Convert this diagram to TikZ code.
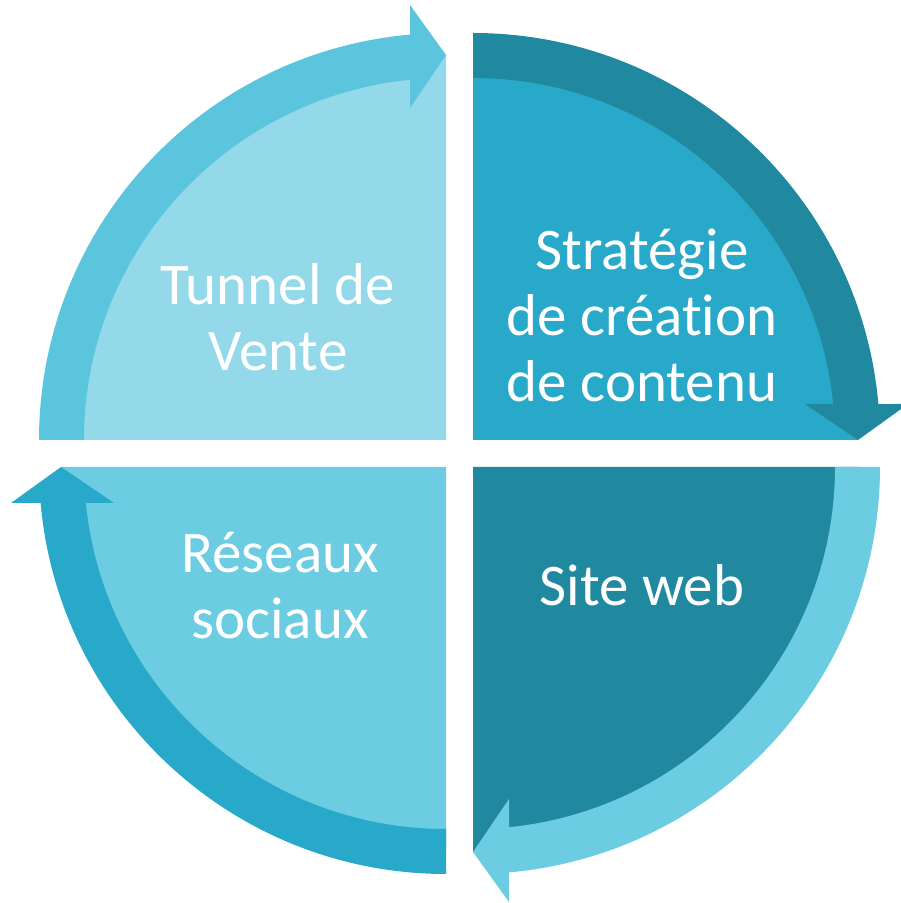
\documentclass[tikz,border=0pt]{standalone}
\usepackage{fontspec}
\setmainfont{Carlito}[Ligatures=NoCommon]
\definecolor{tlslice}{HTML}{93D9E9}
\definecolor{tlband}{HTML}{5BC5DE}
\definecolor{trslice}{HTML}{29A9C9}
\definecolor{trband}{HTML}{2089A0}
\definecolor{brslice}{HTML}{2089A0}
\definecolor{brband}{HTML}{6BCCE2}
\definecolor{blslice}{HTML}{6BCCE2}
\definecolor{blband}{HTML}{29A9C9}
% quarter disc of one quadrant, drawn in the local frame of the upper-left quadrant
\newcommand{\drawquadrant}[1]{%
  \fill[#1] (0,0) -- (0,385) arc[start angle=90,end angle=180,radius=385] -- cycle;}
% curved band ending in an arrow head, same local frame
\newcommand{\bandarrow}[1]{%
  \fill[#1] (-362,0) -- (-407,0) arc[start angle=180,end angle=95.074,radius=407]
    -- (-36,435) -- (0,385) -- (-36,332) -- (-36,360.2)
    arc[start angle=95.707,end angle=180,radius=362] -- cycle;}
\begin{document}
\begin{tikzpicture}[x=1pt,y=1pt]
\tikzset{
  caption/.style={text=white, font=\fontsize{59}{66}\selectfont, align=center, inner sep=0pt},
}
\useasboundingbox (0,0) rectangle (901,903);
\fill[white] (0,0) rectangle (901,903);

% upper left
\begin{scope}[shift={(446,463)}]
  \drawquadrant{tlslice}
  \bandarrow{tlband}
\end{scope}
% upper right
\begin{scope}[shift={(473,463)},rotate=-90]
  \drawquadrant{trslice}
  \bandarrow{trband}
\end{scope}
% lower right
\begin{scope}[shift={(473,436)},rotate=-180]
  \drawquadrant{brslice}
  \bandarrow{brband}
\end{scope}
% lower left
\begin{scope}[shift={(446,436)},rotate=-270]
  \drawquadrant{blslice}
  \bandarrow{blband}
\end{scope}

\node[caption] (tunnel) at (278,585.5) {Tunnel de\\Vente};
\node[caption] (strategie) at (642,587.5) {Stratégie\\de création\\de contenu};
\node[caption] (reseaux) at (280,317.5) {Réseaux\\sociaux};
\node[caption] (site) at (642,318) {Site web};
\end{tikzpicture}
\end{document}
